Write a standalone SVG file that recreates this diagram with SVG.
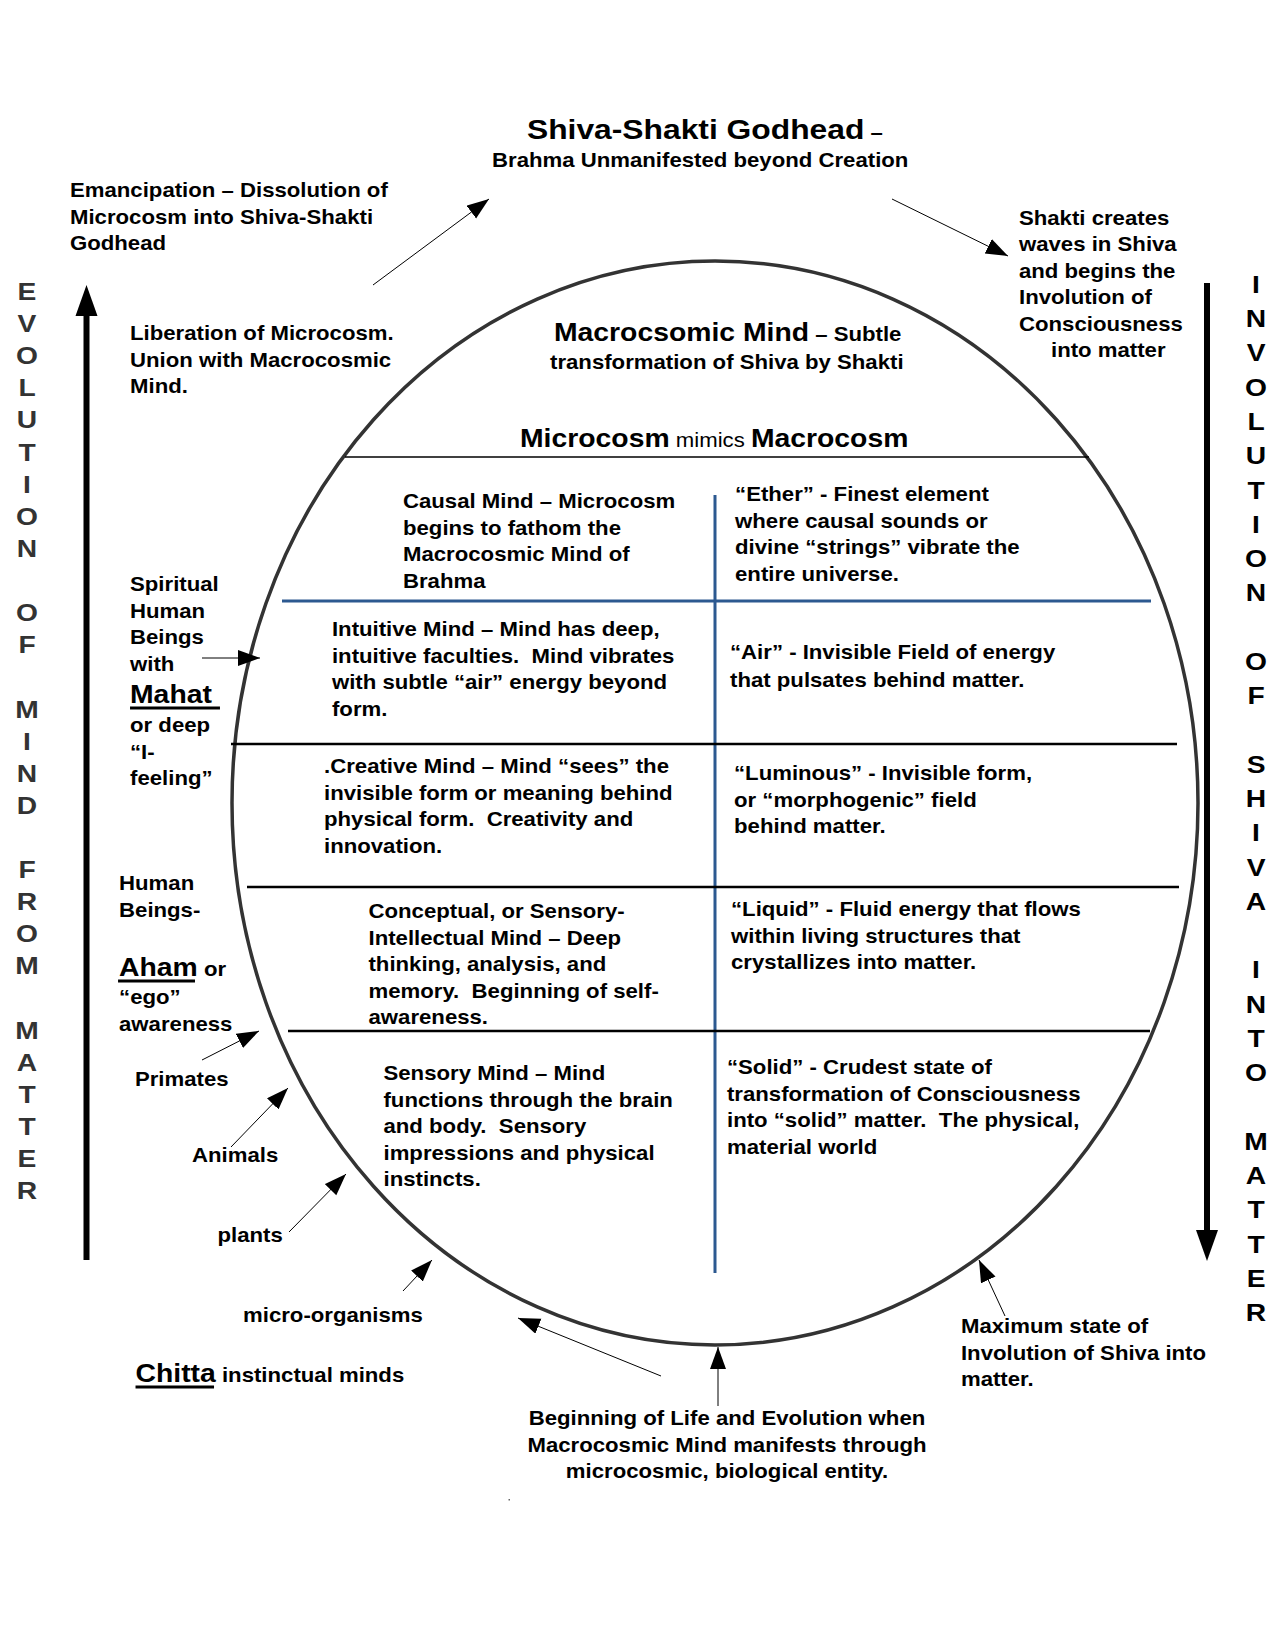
<svg xmlns="http://www.w3.org/2000/svg" width="1275" height="1650" viewBox="0 0 1275 1650">
<style>
.t{font-family:"Liberation Sans",Arial,Helvetica,sans-serif;font-weight:bold;font-size:19.8px;fill:#000}
.big{font-size:25.3px}
.title{font-size:28.4px}
.reg{font-weight:normal}
.mid{text-anchor:middle}
.vl{font-family:"Liberation Sans",Arial,Helvetica,sans-serif;font-weight:bold;font-size:23.5px;text-anchor:middle}
.gray{fill:#333}
.ell{fill:none;stroke:#333;stroke-width:3.5}
.hl{stroke:#000;stroke-width:2.6}
.hl1{stroke:#000;stroke-width:1.3}
.blue{stroke:#2c5990;stroke-width:3}
.thin{stroke:#000;stroke-width:1;fill:none}
.ul{stroke:#000;stroke-width:3}
.shaft{stroke:#000;stroke-width:6}
</style>
<defs>
<marker id="ah" markerUnits="userSpaceOnUse" markerWidth="24" markerHeight="18" refX="22" refY="8" orient="auto">
<path d="M0,0 L22,8 L0,16 z" fill="#000"/>
</marker>
</defs>
<rect width="1275" height="1650" fill="#fff"/>

<g id="frame">
<ellipse class="ell" cx="715" cy="803" rx="483" ry="542"/>
<line class="hl1" x1="345" y1="457" x2="1089" y2="457"/>
<line class="blue" x1="282" y1="601" x2="1151" y2="601"/>
<line class="blue" x1="715" y1="495" x2="715" y2="1273"/>
<line class="hl" x1="231" y1="744" x2="1177" y2="744"/>
<line class="hl" x1="247" y1="887" x2="1179" y2="887"/>
<line class="hl" x1="288" y1="1031" x2="1150" y2="1031"/>
<rect x="508.5" y="1499" width="1.5" height="1.5" fill="#666"/>
</g>

<g id="connectors">
<line class="shaft" x1="86.5" y1="1260" x2="86.5" y2="312"/>
<polygon points="86.5,285 75.5,316 97.5,316" fill="#000"/>
<line class="shaft" x1="1207" y1="283" x2="1207" y2="1233"/>
<polygon points="1207,1261 1196,1230 1218,1230" fill="#000"/>
<line class="thin" x1="373" y1="285" x2="489" y2="199" marker-end="url(#ah)"/>
<line class="thin" x1="892" y1="199" x2="1008" y2="256" marker-end="url(#ah)"/>
<line class="thin" x1="202" y1="658" x2="260" y2="658" marker-end="url(#ah)"/>
<line class="thin" x1="202" y1="1060" x2="259" y2="1031" marker-end="url(#ah)"/>
<line class="thin" x1="231" y1="1147" x2="288" y2="1088" marker-end="url(#ah)"/>
<line class="thin" x1="289" y1="1232" x2="346" y2="1174" marker-end="url(#ah)"/>
<line class="thin" x1="403" y1="1291" x2="432" y2="1260" marker-end="url(#ah)"/>
<line class="thin" x1="661" y1="1376" x2="518" y2="1318" marker-end="url(#ah)"/>
<line class="thin" x1="718" y1="1406" x2="718" y2="1347" marker-end="url(#ah)"/>
<line class="thin" x1="1005" y1="1316" x2="979" y2="1260" marker-end="url(#ah)"/>
</g>

<g id="evolution-label" transform="scale(1.2,1)" class="vl gray">
<text x="22.5" y="300">E</text>
<text x="22.5" y="332.1">V</text>
<text x="22.5" y="364.2">O</text>
<text x="22.5" y="396.4">L</text>
<text x="22.5" y="428.5">U</text>
<text x="22.5" y="460.6">T</text>
<text x="22.5" y="492.7">I</text>
<text x="22.5" y="524.8">O</text>
<text x="22.5" y="557">N</text>
<text x="22.5" y="621.2">O</text>
<text x="22.5" y="653.3">F</text>
<text x="22.5" y="717.6">M</text>
<text x="22.5" y="749.7">I</text>
<text x="22.5" y="781.8">N</text>
<text x="22.5" y="813.9">D</text>
<text x="22.5" y="878.2">F</text>
<text x="22.5" y="910.3">R</text>
<text x="22.5" y="942.4">O</text>
<text x="22.5" y="974.5">M</text>
<text x="22.5" y="1038.8">M</text>
<text x="22.5" y="1070.9">A</text>
<text x="22.5" y="1103">T</text>
<text x="22.5" y="1135.1">T</text>
<text x="22.5" y="1167.2">E</text>
<text x="22.5" y="1199.4">R</text>
</g>

<g id="involution-label" transform="scale(1.2,1)" class="vl">
<text x="1046.7" y="293">I</text>
<text x="1046.7" y="327.3">N</text>
<text x="1046.7" y="361.5">V</text>
<text x="1046.7" y="395.8">O</text>
<text x="1046.7" y="430.1">L</text>
<text x="1046.7" y="464.4">U</text>
<text x="1046.7" y="498.6">T</text>
<text x="1046.7" y="532.9">I</text>
<text x="1046.7" y="567.2">O</text>
<text x="1046.7" y="601.4">N</text>
<text x="1046.7" y="670">O</text>
<text x="1046.7" y="704.2">F</text>
<text x="1046.7" y="772.8">S</text>
<text x="1046.7" y="807.1">H</text>
<text x="1046.7" y="841.3">I</text>
<text x="1046.7" y="875.6">V</text>
<text x="1046.7" y="909.9">A</text>
<text x="1046.7" y="978.4">I</text>
<text x="1046.7" y="1012.7">N</text>
<text x="1046.7" y="1046.9">T</text>
<text x="1046.7" y="1081.2">O</text>
<text x="1046.7" y="1149.8">M</text>
<text x="1046.7" y="1184">A</text>
<text x="1046.7" y="1218.3">T</text>
<text x="1046.7" y="1252.6">T</text>
<text x="1046.7" y="1286.8">E</text>
<text x="1046.7" y="1321.1">R</text>
</g>

<g id="godhead" transform="scale(1.12,1)">
<text class="t" x="470.5" y="139"><tspan class="title">Shiva-Shakti Godhead</tspan> –</text>
<text class="t" x="439.3" y="167">Brahma Unmanifested beyond Creation</text>
</g>

<g id="emancipation" transform="scale(1.12,1)">
<text class="t"><tspan x="62.5" y="197">Emancipation – Dissolution of</tspan><tspan x="62.5" y="223.6">Microcosm into Shiva-Shakti</tspan><tspan x="62.5" y="250.2">Godhead</tspan></text>
</g>

<g id="shakti-creates" transform="scale(1.12,1)">
<text class="t"><tspan x="909.8" y="225">Shakti creates</tspan><tspan x="909.8" y="251.5">waves in Shiva</tspan><tspan x="909.8" y="278">and begins the</tspan><tspan x="909.8" y="304.5">Involution of</tspan><tspan x="909.8" y="331">Consciousness</tspan><tspan x="938.4" y="357.5">into matter</tspan></text>
</g>

<g id="liberation" transform="scale(1.12,1)">
<text class="t"><tspan x="116.1" y="340">Liberation of Microcosm.</tspan><tspan x="116.1" y="366.6">Union with Macrocosmic</tspan><tspan x="116.1" y="393.2">Mind.</tspan></text>
</g>

<g id="macrocosmic-mind" transform="scale(1.12,1)">
<text class="t" x="494.6" y="341"><tspan class="big">Macrocsomic Mind</tspan> – Subtle</text>
<text class="t" x="491.1" y="369">transformation of Shiva by Shakti</text>
</g>

<g id="microcosm-mimics" transform="scale(1.12,1)">
<text class="t" x="464.3" y="447"><tspan class="big">Microcosm</tspan><tspan class="reg"> mimics </tspan><tspan class="big">Macrocosm</tspan></text>
</g>

<g id="causal-mind" transform="scale(1.12,1)">
<text class="t"><tspan x="359.8" y="508">Causal Mind – Microcosm</tspan><tspan x="359.8" y="534.6">begins to fathom the</tspan><tspan x="359.8" y="561.2">Macrocosmic Mind of</tspan><tspan x="359.8" y="587.8">Brahma</tspan></text>
</g>

<g id="ether" transform="scale(1.12,1)">
<text class="t"><tspan x="656.3" y="501">“Ether” - Finest element</tspan><tspan x="656.3" y="527.6">where causal sounds or</tspan><tspan x="656.3" y="554.2">divine “strings” vibrate the</tspan><tspan x="656.3" y="580.8">entire universe.</tspan></text>
</g>

<g id="intuitive-mind" transform="scale(1.12,1)">
<text class="t"><tspan x="296.4" y="636">Intuitive Mind – Mind has deep,</tspan><tspan x="296.4" y="662.6">intuitive faculties.&#160; Mind vibrates</tspan><tspan x="296.4" y="689.2">with subtle “air” energy beyond</tspan><tspan x="296.4" y="715.8">form.</tspan></text>
</g>

<g id="air" transform="scale(1.12,1)">
<text class="t"><tspan x="651.8" y="659">“Air” - Invisible Field of energy</tspan><tspan x="651.8" y="686.6">that pulsates behind matter.</tspan></text>
</g>

<g id="creative-mind" transform="scale(1.12,1)">
<text class="t"><tspan x="289.3" y="773">.Creative Mind – Mind “sees” the</tspan><tspan x="289.3" y="799.6">invisible form or meaning behind</tspan><tspan x="289.3" y="826.2">physical form.&#160; Creativity and</tspan><tspan x="289.3" y="852.8">innovation.</tspan></text>
</g>

<g id="luminous" transform="scale(1.12,1)">
<text class="t"><tspan x="655.4" y="780">“Luminous” - Invisible form,</tspan><tspan x="655.4" y="806.6">or “morphogenic” field</tspan><tspan x="655.4" y="833.2">behind matter.</tspan></text>
</g>

<g id="conceptual-mind" transform="scale(1.12,1)">
<text class="t"><tspan x="329" y="918">Conceptual, or Sensory-</tspan><tspan x="329" y="944.6">Intellectual Mind – Deep</tspan><tspan x="329" y="971.2">thinking, analysis, and</tspan><tspan x="329" y="997.8">memory.&#160; Beginning of self-</tspan><tspan x="329" y="1024.4">awareness.</tspan></text>
</g>

<g id="liquid" transform="scale(1.12,1)">
<text class="t"><tspan x="652.7" y="916">“Liquid” - Fluid energy that flows</tspan><tspan x="652.7" y="942.6">within living structures that</tspan><tspan x="652.7" y="969.2">crystallizes into matter.</tspan></text>
</g>

<g id="sensory-mind" transform="scale(1.12,1)">
<text class="t"><tspan x="342.4" y="1080">Sensory Mind – Mind</tspan><tspan x="342.4" y="1106.6">functions through the brain</tspan><tspan x="342.4" y="1133.2">and body.&#160; Sensory</tspan><tspan x="342.4" y="1159.8">impressions and physical</tspan><tspan x="342.4" y="1186.4">instincts.</tspan></text>
</g>

<g id="solid" transform="scale(1.12,1)">
<text class="t"><tspan x="649.1" y="1074">“Solid” - Crudest state of</tspan><tspan x="649.1" y="1100.6">transformation of Consciousness</tspan><tspan x="649.1" y="1127.2">into “solid” matter.&#160; The physical,</tspan><tspan x="649.1" y="1153.8">material world</tspan></text>
</g>

<g id="spiritual-human-beings" transform="scale(1.12,1)">
<text class="t"><tspan x="116.1" y="591">Spiritual</tspan><tspan x="116.1" y="617.6">Human</tspan><tspan x="116.1" y="644.2">Beings</tspan><tspan x="116.1" y="670.8">with</tspan></text>
<text class="t big" x="116.1" y="703">Mahat</text>
<line class="ul" x1="116.1" y1="708" x2="196.4" y2="708"/>
<text class="t"><tspan x="116.1" y="732">or deep</tspan><tspan x="116.1" y="758.6">“I-</tspan><tspan x="116.1" y="785.2">feeling”</tspan></text>
</g>

<g id="human-beings" transform="scale(1.12,1)">
<text class="t"><tspan x="106.3" y="890">Human</tspan><tspan x="106.3" y="916.6">Beings-</tspan></text>
<text class="t" x="106.3" y="976"><tspan class="big">Aham</tspan> or</text>
<line class="ul" x1="105.4" y1="981" x2="174.1" y2="981"/>
<text class="t"><tspan x="106.3" y="1004">“ego”</tspan><tspan x="106.3" y="1030.6">awareness</tspan></text>
</g>

<g id="primates" transform="scale(1.12,1)"><text class="t" x="120.5" y="1086">Primates</text></g>
<g id="animals" transform="scale(1.12,1)"><text class="t" x="171.4" y="1162">Animals</text></g>
<g id="plants" transform="scale(1.12,1)"><text class="t" x="194.2" y="1242">plants</text></g>
<g id="micro-organisms" transform="scale(1.12,1)"><text class="t" x="217" y="1322">micro-organisms</text></g>

<g id="chitta" transform="scale(1.12,1)">
<text class="t" x="121" y="1382"><tspan class="big">Chitta</tspan> instinctual minds</text>
<line class="ul" x1="121" y1="1387" x2="191.1" y2="1387"/>
</g>

<g id="beginning-of-life" transform="scale(1.12,1)">
<text class="t mid"><tspan x="649.1" y="1425">Beginning of Life and Evolution when</tspan><tspan x="649.1" y="1451.6">Macrocosmic Mind manifests through</tspan><tspan x="649.1" y="1478.2">microcosmic, biological entity.</tspan></text>
</g>

<g id="maximum-involution" transform="scale(1.12,1)">
<text class="t"><tspan x="858" y="1333">Maximum state of</tspan><tspan x="858" y="1359.6">Involution of Shiva into</tspan><tspan x="858" y="1386.2">matter.</tspan></text>
</g>
</svg>
